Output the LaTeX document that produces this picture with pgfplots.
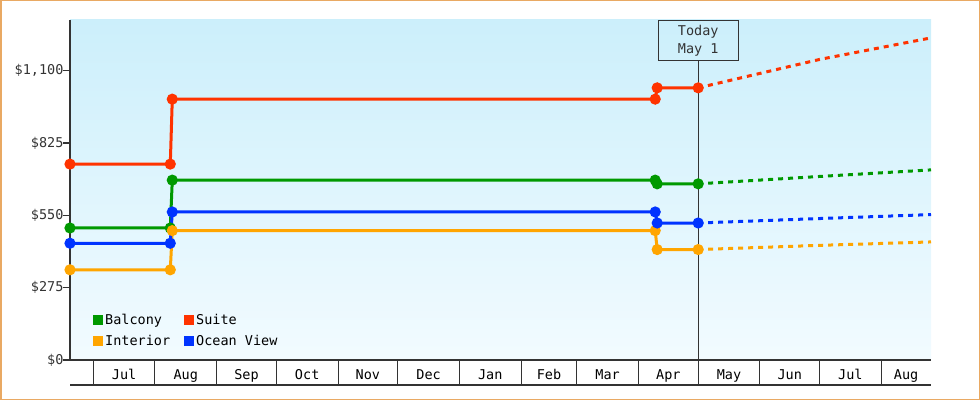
\documentclass[border=0pt]{standalone}
\usepackage{fontspec}
\setmainfont{DejaVu Sans Mono}
\usepackage{pgfplots}
\pgfplotsset{compat=1.18}

\definecolor{cBal}{RGB}{0,153,0}
\definecolor{cSuite}{RGB}{255,51,0}
\definecolor{cInt}{RGB}{255,165,0}
\definecolor{cOcean}{RGB}{0,51,255}
\definecolor{axisgray}{RGB}{51,51,51}
\definecolor{frame}{RGB}{233,169,99}
\definecolor{bgtop}{RGB}{204,239,251}
\definecolor{bgbot}{RGB}{242,251,255}
\newcommand\cf{\fontsize{13.5pt}{18pt}\selectfont}

% x = days after 1 Jul
\begin{document}
\begin{tikzpicture}
\path[use as bounding box] (0,0) rectangle (980pt,400pt);
\draw[frame, line width=1.5pt] (0.75pt,0.75pt) rectangle (979.25pt,399.25pt);
\begin{axis}[
    at={(70pt,40pt)}, anchor=south west,
    scale only axis, width=861pt, height=340pt,
    xmin=-11.7, xmax=421, ymin=0, ymax=1293,
    clip=false,
    axis background/.style={shade, top color=bgtop, bottom color=bgbot},
    axis x line*=bottom, axis y line*=left,
    axis line style={-, draw=axisgray},
    x axis line style={line width=1.2pt},
    y axis line style={line width=2pt},
    xtick={15.5,46.5,77,107.5,138,168.5,199.5,229,258.5,289,319.5,350,380.5,408.5},
    xticklabels={Jul,Aug,Sep,Oct,Nov,Dec,Jan,Feb,Mar,Apr,May,Jun,Jul,Aug},
    xtick style={draw=none},
    xticklabel style={anchor=base, yshift=-12pt, font=\cf, text=black},
    ytick={0,275,550,825,1100},
    yticklabels={\$0,\$275,\$550,\$825,{\$1,100}},
    ytick style={draw=axisgray, line width=1.5pt},
    tick align=outside, major tick length=7pt,
    yticklabel style={font=\cf, text=axisgray, xshift=4pt},
    every axis plot/.append style={line width=3pt, mark=*, mark size=4pt},
    legend columns=2,
    legend cell align=left,
    legend image code/.code={\fill[#1, draw=none] (0pt,-5pt) rectangle (10pt,5pt);},
    legend style={draw=none, fill=none, font=\cf, at={(0,0)}, anchor=south west,
        xshift=20pt, yshift=9pt, row sep=5pt,
        /tikz/column 2/.style={column sep=12pt},
        nodes={inner sep=2pt}},
]
% current prices (solid steps)
\addplot[cBal] coordinates {(-11.7,502) (38.7,502) (39.7,684) (282.4,684) (283.4,670) (304,670)};
\addlegendentry{Balcony}
\addplot[cSuite] coordinates {(-11.7,745) (38.7,745) (39.7,992) (282.4,992) (283.4,1035) (304,1035)};
\addlegendentry{Suite}
\addplot[cInt] coordinates {(-11.7,343) (38.7,343) (39.7,492) (282.4,492) (283.4,420) (304,420)};
\addlegendentry{Interior}
\addplot[cOcean] coordinates {(-11.7,444) (38.7,444) (39.7,563) (282.4,563) (283.4,521) (304,521)};
\addlegendentry{Ocean View}

% projections (dotted)
\addplot[cSuite, no marks, dash pattern=on 5pt off 5pt, forget plot] coordinates {(304,1035) (365,1143) (421,1225)};
\addplot[cBal, no marks, dash pattern=on 5pt off 5pt, forget plot] coordinates {(304,670) (365,698) (421,723)};
\addplot[cOcean, no marks, dash pattern=on 5pt off 5pt, forget plot] coordinates {(304,521) (365,538) (421,553)};
\addplot[cInt, no marks, dash pattern=on 5pt off 5pt, forget plot] coordinates {(304,420) (365,436) (421,449)};

% month cells under the axis
\pgfplotsinvokeforeach{0,31,62,92,123,153,184,215,243,274,304,335,365,396}{
  \draw[axisgray, line width=1pt] (axis cs:#1,0) -- ++(0pt,-25pt);
}
\draw[axisgray, line width=1.2pt] (axis cs:-11.7,0) ++(0pt,-25pt) -- ([yshift=-25pt]axis cs:421,0);

% today marker
\node[draw=axisgray, line width=1pt, align=center, minimum width=80pt,
      minimum height=40pt, anchor=north, font=\cf, text=axisgray, inner sep=0pt]
      (today) at (axis cs:304,1293) {Today\\May 1};
\draw[axisgray, line width=1pt] (axis cs:304,0) -- (today.south);
\end{axis}
\end{tikzpicture}
\end{document}
